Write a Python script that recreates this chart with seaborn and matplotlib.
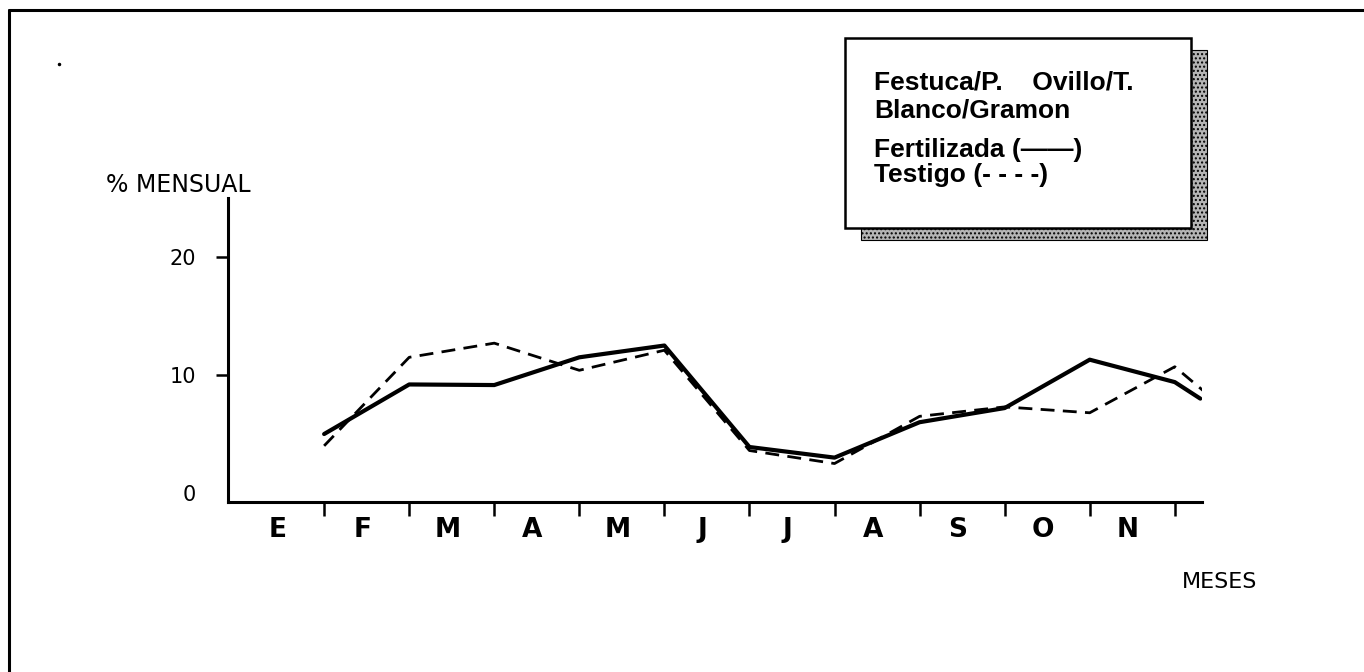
import numpy as np
import pandas as pd
import matplotlib
matplotlib.use("Agg")
import matplotlib.pyplot as plt
import seaborn as sns
from matplotlib.lines import Line2D
from matplotlib.patches import Rectangle


# Month initials (Spanish), one label per month interval on the x axis.
MESES = ["E", "F", "M", "A", "M", "J", "J", "A", "S", "O", "N"]

# Month boundaries where values were read, plus the trailing end point (December).
x_fert = [1, 2, 3, 4, 5, 6, 7, 8, 9, 10, 11, 11.3]
fertilizada = [5.0, 9.2, 9.15, 11.5, 12.5, 3.9, 3.0, 6.0, 7.2, 11.3, 9.4, 8.0]

x_test = [1, 2, 3, 4, 5, 6, 7, 8, 9, 10, 11, 11.33]
testigo = [4.0, 11.5, 12.7, 10.4, 12.1, 3.6, 2.5, 6.5, 7.3, 6.8, 10.7, 8.7]

y_ticks = [0, 10, 20]
y_tick_labels = ["0", "10", "20"]

LEGEND_LINES = [
    "Festuca/P.    Ovillo/T.",
    "Blanco/Gramon",
    "Fertilizada (\u2014\u2014)",
    "Testigo (- - - -)",
]

sns.set_theme(style="white")
plt.rcParams["font.family"] = ["DejaVu Sans"]
plt.rcParams["text.color"] = "black"
plt.rcParams["xtick.color"] = "black"
plt.rcParams["ytick.color"] = "black"
plt.rcParams["axes.labelcolor"] = "black"

W, H = 1364, 672
fig = plt.figure(figsize=(W / 100, H / 100), dpi=100)


def fx(px):
    return px / W


def fy(py):
    return 1 - py / H


# axes spans x 228..1202 px, y 198..502 px
ax = fig.add_axes([fx(228), fy(502), fx(1202) - fx(228), fy(198) - fy(502)])

df_f = pd.DataFrame({"mes": x_fert, "pct": fertilizada})
df_t = pd.DataFrame({"mes": x_test, "pct": testigo})

sns.lineplot(data=df_f, x="mes", y="pct", color="black", linewidth=3.0, ax=ax)
sns.lineplot(data=df_t, x="mes", y="pct", color="black", linewidth=2.0, ax=ax)
ax.lines[-1].set_dashes((5, 3))

ax.set_xlim(-0.13, 11.32)
ax.set_ylim(-0.76, 25.0)

for side in ["top", "right"]:
    ax.spines[side].set_visible(False)
for side in ["left", "bottom"]:
    ax.spines[side].set_color("black")
    ax.spines[side].set_linewidth(2.2)

# month boundaries as tick marks, month names centred between them
ax.set_xticks(range(1, 12))
ax.set_xticklabels([])
ax.set_xticks([i + 0.45 for i in range(11)], minor=True)
ax.set_xticklabels(MESES, minor=True, fontsize=19, fontweight="bold")
ax.tick_params(axis="x", which="major", direction="out", length=10,
               width=1.8, color="black", bottom=True)
ax.tick_params(axis="x", which="minor", length=0, pad=11, bottom=True,
               labelcolor="black")

ax.set_yticks(y_ticks)
ax.set_yticklabels(y_tick_labels, fontsize=15)
ax.tick_params(axis="y", direction="out", length=9, width=1.8,
               color="black", pad=14, left=True, labelcolor="black")
ax.yaxis.get_major_ticks()[0].tick1line.set_visible(False)

ax.set_xlabel("")
ax.set_ylabel("")
ax.grid(False)

fig.text(fx(106), fy(185), "% MENSUAL", fontsize=17, va="center", ha="left")
fig.text(fx(1182), fy(582), "MESES", fontsize=16, va="center", ha="left")

# legend card with stippled shadow
bx0, by0, bx1, by1 = 845, 38, 1191, 228
shadow = Rectangle((fx(bx0 + 16), fy(by1 + 12)), fx(bx1 - bx0), fy(by0) - fy(by1),
                   transform=fig.transFigure, facecolor="#b5b5b5",
                   edgecolor="black", linewidth=0.8, hatch="....")
card = Rectangle((fx(bx0), fy(by1)), fx(bx1 - bx0), fy(by0) - fy(by1),
                 transform=fig.transFigure, facecolor="white",
                 edgecolor="black", linewidth=1.8)
fig.add_artist(shadow)
fig.add_artist(card)

for text, ypx in zip(LEGEND_LINES, [83, 111, 150, 175]):
    fig.text(fx(874), fy(ypx), text, fontsize=19, fontweight="bold",
             family=["Liberation Sans", "DejaVu Sans"], va="center", ha="left")

# page frame (only top and left edges visible) and stray dot
fig.add_artist(Line2D([fx(9), 1], [fy(10), fy(10)], color="black", linewidth=2.2,
                      transform=fig.transFigure))
fig.add_artist(Line2D([fx(9), fx(9)], [fy(10), 0], color="black", linewidth=2.2,
                      transform=fig.transFigure))
fig.add_artist(Line2D([fx(59)], [fy(64)], marker="o", markersize=1.5,
                      color="black", transform=fig.transFigure))

fig.savefig("out.png", dpi=100)
